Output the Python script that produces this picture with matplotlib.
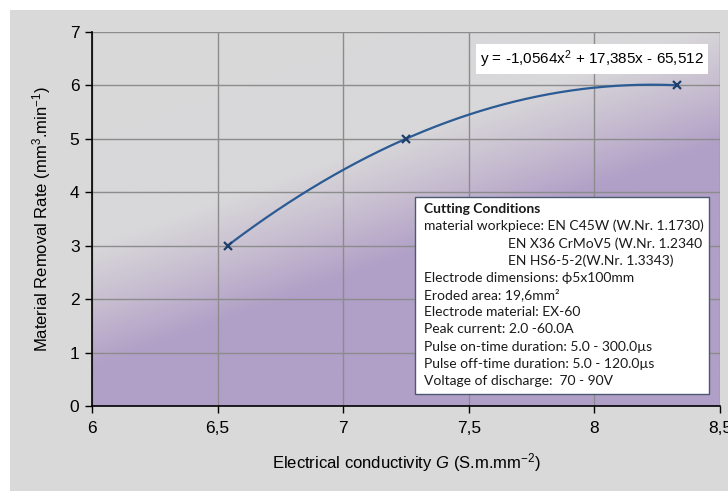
import numpy as np
import matplotlib.pyplot as plt
from matplotlib.colors import LinearSegmentedColormap
from matplotlib.patches import Rectangle

# data
conductivity = [6.54, 7.25, 8.33]
mrr = [3.0, 5.0, 6.0]
coef = [-1.0564, 17.385, -65.512]   # trendline y = a x^2 + b x + c
x_ticks = [6, 6.5, 7, 7.5, 8, 8.5]
x_ticklabels = ['6', '6,5', '7', '7,5', '8', '8,5']
y_ticks = [0, 1, 2, 3, 4, 5, 6, 7]

conditions = [
    ('Cutting Conditions', 0),
    ('material workpiece: EN C45W (W.Nr. 1.1730)', 0),
    ('EN X36 CrMoV5 (W.Nr. 1.2340', 1),
    ('EN HS6-5-2(W.Nr. 1.3343)', 1),
    ('Electrode dimensions: \u03d55x100mm', 0),
    ('Eroded area: 19,6mm\u00b2', 0),
    ('Electrode material: EX-60', 0),
    ('Peak current: 2.0 -60.0A', 0),
    ('Pulse on-time duration: 5.0 - 300.0\u00b5s', 0),
    ('Pulse off-time duration: 5.0 - 120.0\u00b5s', 0),
    ('Voltage of discharge:  70 - 90V', 0),
]

plt.rcParams.update({
    'font.family': ['Liberation Sans', 'DejaVu Sans'],
    'mathtext.fontset': 'custom',
    'mathtext.rm': 'Liberation Sans',
    'mathtext.it': 'Liberation Sans:italic',
})

W, H = 728, 491
fig = plt.figure(figsize=(W / 100, H / 100), dpi=100, facecolor='white')
fig.patches.append(Rectangle((10 / W, 0), 1, 1 - 10 / H, transform=fig.transFigure,
                             facecolor='#d9d9d9', edgecolor='none', zorder=-10))

ax = fig.add_axes([92 / W, 1 - 406 / H, 628 / W, 374 / H])

# diagonal gradient background (row 0 = top of the plot area)
u, v = np.meshgrid(np.linspace(0, 1, 300), np.linspace(0, 1, 200))
t = (v + 0.6 * u) / 1.6
cmap = LinearSegmentedColormap.from_list(
    'bg', [(0, '#d9d9d9'), (0.36, '#d8d7d9'), (0.46, '#c7bdd0'),
           (0.56, '#b1a0c7'), (1, '#b09fc7')])
ax.imshow(t, cmap=cmap, vmin=0, vmax=1, extent=[6, 8.5, 0, 7], origin='upper',
          aspect='auto', zorder=0, interpolation='bilinear')
ax.set_xlim(6, 8.5)
ax.set_ylim(0, 7)

ax.set_xticks(x_ticks)
ax.set_xticklabels(x_ticklabels)
ax.set_yticks(y_ticks)
ax.grid(True, color='#8c8c8c', linewidth=1)
ax.set_axisbelow(False)
for s in ['top', 'right']:
    ax.spines[s].set_visible(False)
for s in ['left', 'bottom']:
    ax.spines[s].set_color('black')
    ax.spines[s].set_linewidth(1.2)
    ax.spines[s].set_zorder(3)
ax.tick_params(labelsize=12.5, length=5, width=1, direction='out', pad=4)
ax.tick_params(axis='x', pad=6)

xs = np.linspace(conductivity[0], conductivity[-1], 200)
ax.plot(xs, np.polyval(coef, xs), color='#2b5b94', linewidth=1.6, zorder=4)
ax.plot(conductivity, mrr, linestyle='none', marker='x', color='#1f3f6b',
        markersize=6, markeredgewidth=1.6, zorder=5)

ax.set_xlabel('Electrical conductivity $G$ (S.m.mm$^{-2}$)', fontsize=12, labelpad=11)
ax.set_ylabel('Material Removal Rate (mm$^{3}$.min$^{-1}$)', fontsize=12, labelpad=12)

# trendline equation
fig.text(480 / W, 1 - 59 / H, 'y = -1,0564x$^{2}$ + 17,385x - 65,512', fontsize=11,
         va='center', ha='left',
         bbox=dict(boxstyle='square,pad=0.25', facecolor='white', edgecolor='none'))

# cutting conditions box
fig.patches.append(Rectangle((415 / W, 1 - 394 / H), 294 / W, 197 / H,
                             transform=fig.transFigure, facecolor='white',
                             edgecolor='#4a5a70', linewidth=1, zorder=5))
for i, (line, indent) in enumerate(conditions):
    x0 = 508 if indent else 424
    fig.text(x0 / W, 1 - (209 + 17.2 * i) / H, line, fontsize=10,
             family=['Lato', 'DejaVu Sans'],
             weight='bold' if i == 0 else 'normal',
             va='center', ha='left', color='#1a1a1a', zorder=6)

fig.savefig('out.png', dpi=100)
